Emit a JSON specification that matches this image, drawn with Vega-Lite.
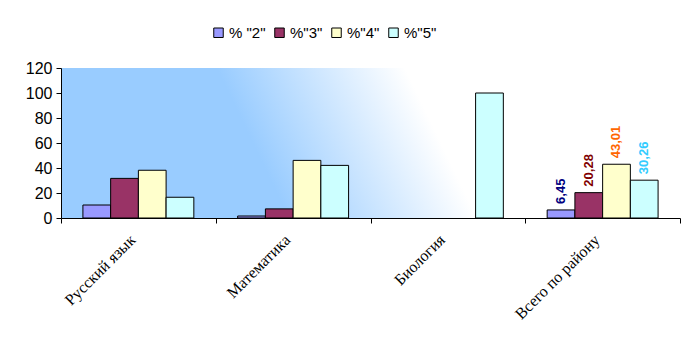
{
  "$schema": "https://vega.github.io/schema/vega-lite/v6.json",
  "autosize": "none",
  "width": 619,
  "height": 150,
  "padding": {"left": 61, "top": 68, "right": 18, "bottom": 135},
  "background": "white",
  "config": {
    "view": {
      "stroke": null,
      "fill": {
        "gradient": "linear",
        "x1": 0.31, "y1": 0.5, "x2": 0.61, "y2": 0.465,
        "stops": [
          {"offset": 0, "color": "#99ccff"},
          {"offset": 1, "color": "#ffffff"}
        ]
      }
    }
  },
  "data": {
    "values": [
      {"subject": "Русский язык", "series": "% \"2\"", "value": 10.4},
      {"subject": "Русский язык", "series": "%\"3\"", "value": 31.7},
      {"subject": "Русский язык", "series": "%\"4\"", "value": 38.2},
      {"subject": "Русский язык", "series": "%\"5\"", "value": 16.6},
      {"subject": "Математика", "series": "% \"2\"", "value": 1.6},
      {"subject": "Математика", "series": "%\"3\"", "value": 7.3},
      {"subject": "Математика", "series": "%\"4\"", "value": 46.1},
      {"subject": "Математика", "series": "%\"5\"", "value": 42.1},
      {"subject": "Биология", "series": "%\"5\"", "value": 100},
      {"subject": "Всего по району", "series": "% \"2\"", "value": 6.45, "label": "6,45"},
      {"subject": "Всего по району", "series": "%\"3\"", "value": 20.28, "label": "20,28"},
      {"subject": "Всего по району", "series": "%\"4\"", "value": 43.01, "label": "43,01"},
      {"subject": "Всего по району", "series": "%\"5\"", "value": 30.26, "label": "30,26"}
    ]
  },
  "encoding": {
    "x": {
      "field": "subject",
      "type": "nominal",
      "sort": ["Русский язык", "Математика", "Биология", "Всего по району"],
      "scale": {"paddingInner": 0, "paddingOuter": 0},
      "axis": {
        "title": null,
        "labelAngle": -45,
        "labelAlign": "right",
        "labelBaseline": "middle",
        "labelFont": "Liberation Serif",
        "labelFontSize": 16,
        "labelColor": "black",
        "labelPadding": 14,
        "labelOffset": -6,
        "tickBand": "extent",
        "tickColor": "black",
        "tickSize": 5,
        "domainColor": "black",
        "labelLimit": 0
      }
    },
    "xOffset": {
      "field": "series",
      "type": "nominal",
      "sort": ["% \"2\"", "%\"3\"", "%\"4\"", "%\"5\""],
      "scale": {"paddingInner": 0, "paddingOuter": 0.79}
    },
    "y": {
      "field": "value",
      "type": "quantitative",
      "scale": {"domain": [0, 120]},
      "axis": {
        "title": null,
        "values": [0, 20, 40, 60, 80, 100, 120],
        "grid": false,
        "labelFont": "Liberation Sans",
        "labelFontSize": 16,
        "labelColor": "black",
        "tickColor": "black",
        "tickSize": 5,
        "domainColor": "black",
        "labelPadding": 4
      }
    }
  },
  "layer": [
    {
      "mark": {"type": "bar", "stroke": "black", "strokeWidth": 1},
      "encoding": {
        "color": {
          "field": "series",
          "type": "nominal",
          "sort": ["% \"2\"", "%\"3\"", "%\"4\"", "%\"5\""],
          "scale": {
            "domain": ["% \"2\"", "%\"3\"", "%\"4\"", "%\"5\""],
            "range": ["#9999ff", "#993366", "#ffffcc", "#ccffff"]
          },
          "legend": {
            "title": null,
            "orient": "none",
            "direction": "horizontal",
            "legendX": 150,
            "legendY": -43,
            "symbolType": "square",
            "symbolSize": 90,
            "symbolStrokeColor": "black",
            "symbolStrokeWidth": 1,
            "symbolOpacity": 1,
            "labelFont": "Liberation Sans",
            "labelFontSize": 15,
            "labelColor": "black",
            "columnPadding": 6,
            "labelOffset": 3
          }
        }
      }
    },
    {
      "transform": [{"filter": "isValid(datum.label)"}],
      "mark": {
        "type": "text",
        "angle": -90,
        "align": "left",
        "baseline": "middle",
        "dx": 6,
        "font": "Liberation Sans",
        "fontSize": 13,
        "fontWeight": "bold"
      },
      "encoding": {
        "text": {"field": "label"},
        "color": {
          "field": "series",
          "type": "nominal",
          "scale": {
            "domain": ["% \"2\"", "%\"3\"", "%\"4\"", "%\"5\""],
            "range": ["#000080", "#800000", "#ff6600", "#33ccff"]
          },
          "legend": null
        }
      }
    }
  ],
  "resolve": {"scale": {"color": "independent"}}
}
